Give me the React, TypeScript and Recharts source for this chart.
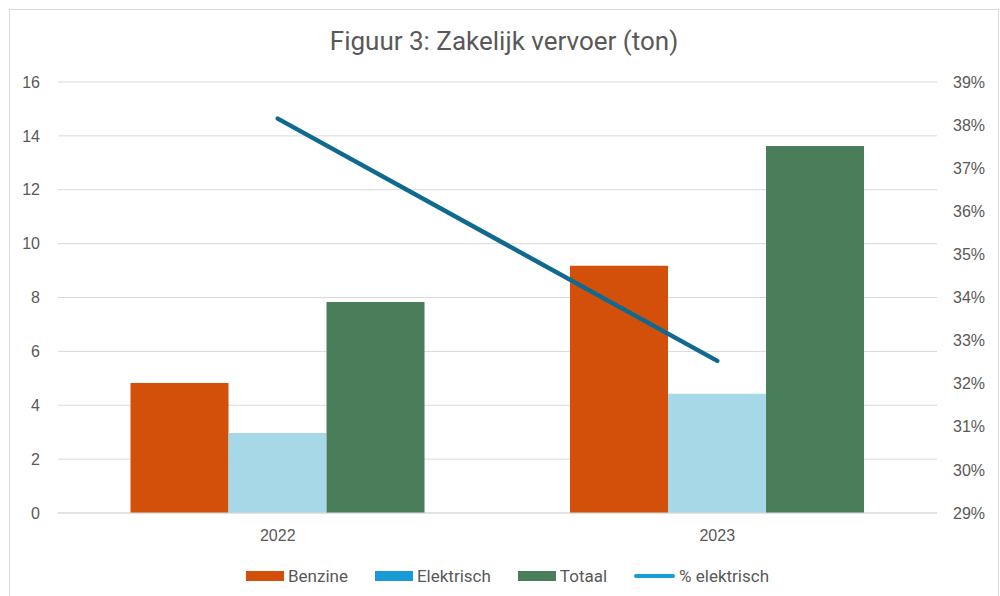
import React from 'react';
import { ComposedChart, Bar, Line, XAxis, YAxis, CartesianGrid } from 'recharts';

const categories = ['2022', '2023'];
const benzine = [4.83, 9.18];
const elektrisch = [2.97, 4.43];
const totaal = [7.83, 13.62];
const pctElektrisch = [0.3815, 0.3253];
const leftTicks = [0, 2, 4, 6, 8, 10, 12, 14, 16];
const rightTicks = [0.29, 0.30, 0.31, 0.32, 0.33, 0.34, 0.35, 0.36, 0.37, 0.38, 0.39];

const data = categories.map((c, i) => ({
  name: c,
  benzine: benzine[i],
  elektrisch: elektrisch[i],
  totaal: totaal[i],
  pct: pctElektrisch[i],
}));

const COLORS = {
  benzine: '#D3500A',
  elektrisch: '#A7D8E7',
  elektrischLegend: '#1A9BD7',
  totaal: '#4A7D59',
  line: '#10698F',
};

const tickStyle = { fill: '#595959', fontSize: 16, fontFamily: '"Liberation Sans", Arial, sans-serif' };
const uiFont = 'Roboto, "Noto Sans", sans-serif';

const legendItems = [
  { label: 'Benzine', color: COLORS.benzine, type: 'rect' },
  { label: 'Elektrisch', color: COLORS.elektrischLegend, type: 'rect' },
  { label: 'Totaal', color: COLORS.totaal, type: 'rect' },
  { label: '% elektrisch', color: COLORS.elektrischLegend, type: 'line' },
];

export default function App() {
  return (
    <div style={{ position: 'absolute', left: 0, top: 0, width: 1000, height: 596, overflow: 'hidden', background: '#fff' }}>
      <div style={{ position: 'absolute', left: 9, top: 9, width: 990, height: 640, border: '1px solid #D9D9D9', boxSizing: 'border-box' }} />
      <div style={{ position: 'absolute', left: 0, top: 26, width: 1008, textAlign: 'center', fontFamily: uiFont, fontSize: 26, lineHeight: '30px', color: '#595959' }}>
        Figuur 3: Zakelijk vervoer (ton)
      </div>
      <div style={{ position: 'absolute', left: 0, top: 0 }}>
        <ComposedChart width={1000} height={596} data={data} margin={{ top: 82, right: 0, bottom: 53, left: 0 }} barGap={0} barCategoryGap="16.5%">
          <CartesianGrid vertical={false} stroke="#D9D9D9" strokeWidth={1} yAxisId="left" />
          <XAxis dataKey="name" axisLine={{ stroke: '#D9D9D9' }} tickLine={false} tickSize={0} tickMargin={17} height={30} tick={tickStyle} />
          <YAxis yAxisId="left" orientation="left" domain={[0, 16]} ticks={leftTicks} width={58} axisLine={false} tickLine={false} tickSize={0} tickMargin={18} tick={tickStyle} interval={0} />
          <YAxis yAxisId="right" orientation="right" domain={[0.29, 0.39]} ticks={rightTicks} width={63} axisLine={false} tickLine={false} tickSize={0} tickMargin={16} tick={tickStyle} interval={0} tickFormatter={(v: number) => `${Math.round(v * 100)}%`} />
          <Bar yAxisId="left" dataKey="benzine" fill={COLORS.benzine} isAnimationActive={false} />
          <Bar yAxisId="left" dataKey="elektrisch" fill={COLORS.elektrisch} isAnimationActive={false} />
          <Bar yAxisId="left" dataKey="totaal" fill={COLORS.totaal} isAnimationActive={false} />
          <Line yAxisId="right" dataKey="pct" stroke={COLORS.line} strokeWidth={4.5} strokeLinecap="round" dot={false} activeDot={false} isAnimationActive={false} />
        </ComposedChart>
      </div>
      <div style={{ position: 'absolute', left: 0, top: 565, width: 1015, display: 'flex', justifyContent: 'center', gap: 27, fontFamily: uiFont, fontSize: 17, lineHeight: '22px', color: '#595959' }}>
        {legendItems.map((it) => (
          <div key={it.label} style={{ display: 'flex', alignItems: 'center', gap: 4 }}>
            {it.type === 'rect' ? (
              <div style={{ width: 38, height: 10, background: it.color }} />
            ) : (
              <div style={{ width: 41, height: 4, borderRadius: 2, background: it.color }} />
            )}
            <span>{it.label}</span>
          </div>
        ))}
      </div>
    </div>
  );
}
